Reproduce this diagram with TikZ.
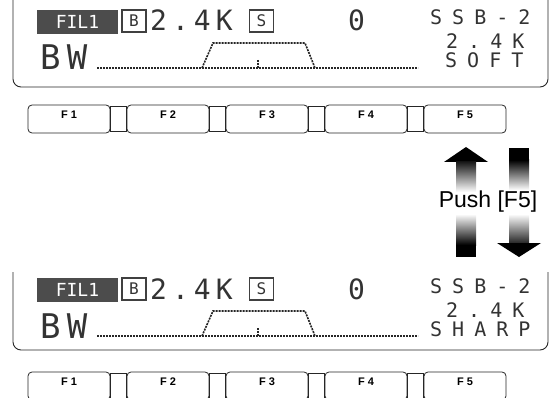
\documentclass[tikz,border=0pt]{standalone}
\usepackage{fontspec}
\setsansfont{Liberation Sans}
\newfontfamily\lcdfont{DejaVu Sans Mono}
\newfontfamily\lcdsmallfont{DejaVu Sans Mono}[LetterSpace=50]
\newfontfamily\lcdbigfont{DejaVu Sans Mono}[LetterSpace=18]
\usetikzlibrary{positioning,calc}
\tikzset{
  panel/.style={draw=black!85,line width=0.9pt,rounded corners=8pt},
  lcdrow/.style={inner sep=0pt,anchor=base west,text=black!80,font=\lcdsmallfont\fontsize{20}{20}\selectfont},
  lcdbig/.style={inner sep=0pt,anchor=base west,text=black!80,font=\lcdbigfont\fontsize{28}{28}\selectfont},
  lcdbw/.style={inner sep=0pt,anchor=base west,text=black!80,font=\lcdbigfont\fontsize{34}{34}\selectfont},
  lcdinv/.style={fill=black!70,text=white,minimum width=81pt,minimum height=24pt,inner sep=0pt,font=\lcdfont\fontsize{18}{18}\selectfont},
  lcdbox/.style={draw=black!75,line width=1.2pt,text=black!80,minimum width=24pt,minimum height=22pt,inner sep=0pt,font=\lcdfont\fontsize{16}{16}\selectfont},
  lcdline/.style={black!85,line width=1.6pt,dash pattern=on 2pt off 1pt},
  fkey/.style={draw=black!85,line width=0.8pt,rounded corners=4pt,minimum width=82pt,minimum height=28pt,inner sep=0pt},
  fkeylink/.style={draw=black!85,line width=0.8pt},
  fkeylabel/.style={font=\sffamily\bfseries\fontsize{11}{11}\selectfont,inner sep=0pt},
  pushlabel/.style={font=\sffamily\fontsize{23}{23}\selectfont,inner sep=0pt}
}

\begin{document}
\begin{tikzpicture}[x=1pt,y=-1pt]
  \useasboundingbox (0,0) rectangle (554,398);
  \clip (0,0) rectangle (554,398);

  % display panels
  \draw[panel] (13,-10) -- (13,87) -- (548,87) -- (548,-10);
  \draw[panel] (13,272) -- (13,350) -- (548,350) -- (548,272);

  % screen contents, before and after
  \foreach \dy/\mode/\mx in {0/SOFT/445,268/SHARP/430}{
    \begin{scope}[yshift=-\dy pt]
      \node[lcdinv] (fil\dy) at (77.5,22) {FIL1};
      \node[lcdbox] (bbox\dy) at (134,21) {B};
      \node[lcdbig] (bwval\dy) at (150,31) {2.4K};
      \node[lcdbox] (sbox\dy) at (261.5,21) {S};
      \node[lcdbig] (shift\dy) at (348,31) {0};
      \node[lcdrow] (mode\dy) at (430,25) {SSB-2};
      \node[lcdrow] (width\dy) at (446,49) {2.4K};
      \node[lcdrow] (shape\dy) at (\mx,68) {\mode};
      \node[lcdbw] (bw\dy) at (40,70) {BW};
      \draw[lcdline] (97,68) -- (418,68);
      \draw[lcdline] (202,68) -- (213,43) -- (305,43) -- (315,68);
      \draw[lcdline] (258,60) -- (258,68);
    \end{scope}
  }

  % function keys
  \foreach \row/\yk in {top/119,bot/386}{
    \foreach \i in {1,...,5}{
      \node[fkey] (\row-f\i) at ({69+99*(\i-1)},\yk) {};
      \node[fkeylabel] (\row-l\i) at ({69+99*(\i-1)},\yk-4) {F \i};
    }
    \foreach \i [evaluate=\i as \j using int(\i+1)] in {1,...,4}
      \draw[fkeylink] ($(\row-f\i.north east)+(0,2)$) rectangle ($(\row-f\j.south west)+(0,-2)$);
  }

  % up arrow
  \fill[black] (444,162) -- (488,162) -- (466,147) -- cycle;
  \shade[top color=black!90,bottom color=white] (456,162) rectangle (476,192);
  \shade[top color=white,bottom color=black] (456,214) rectangle (476,245);
  \fill[black] (456,245) rectangle (476,257);
  % down arrow
  \fill[black] (509,148) rectangle (529,160);
  \shade[top color=black,bottom color=white] (509,160) rectangle (529,190);
  \shade[top color=white,bottom color=black!85] (509,214) rectangle (529,243);
  \fill[black] (497,243) -- (541,243) -- (519,257) -- cycle;

  \node[pushlabel] (push) at (488,202) {Push [F5]};
\end{tikzpicture}
\end{document}
